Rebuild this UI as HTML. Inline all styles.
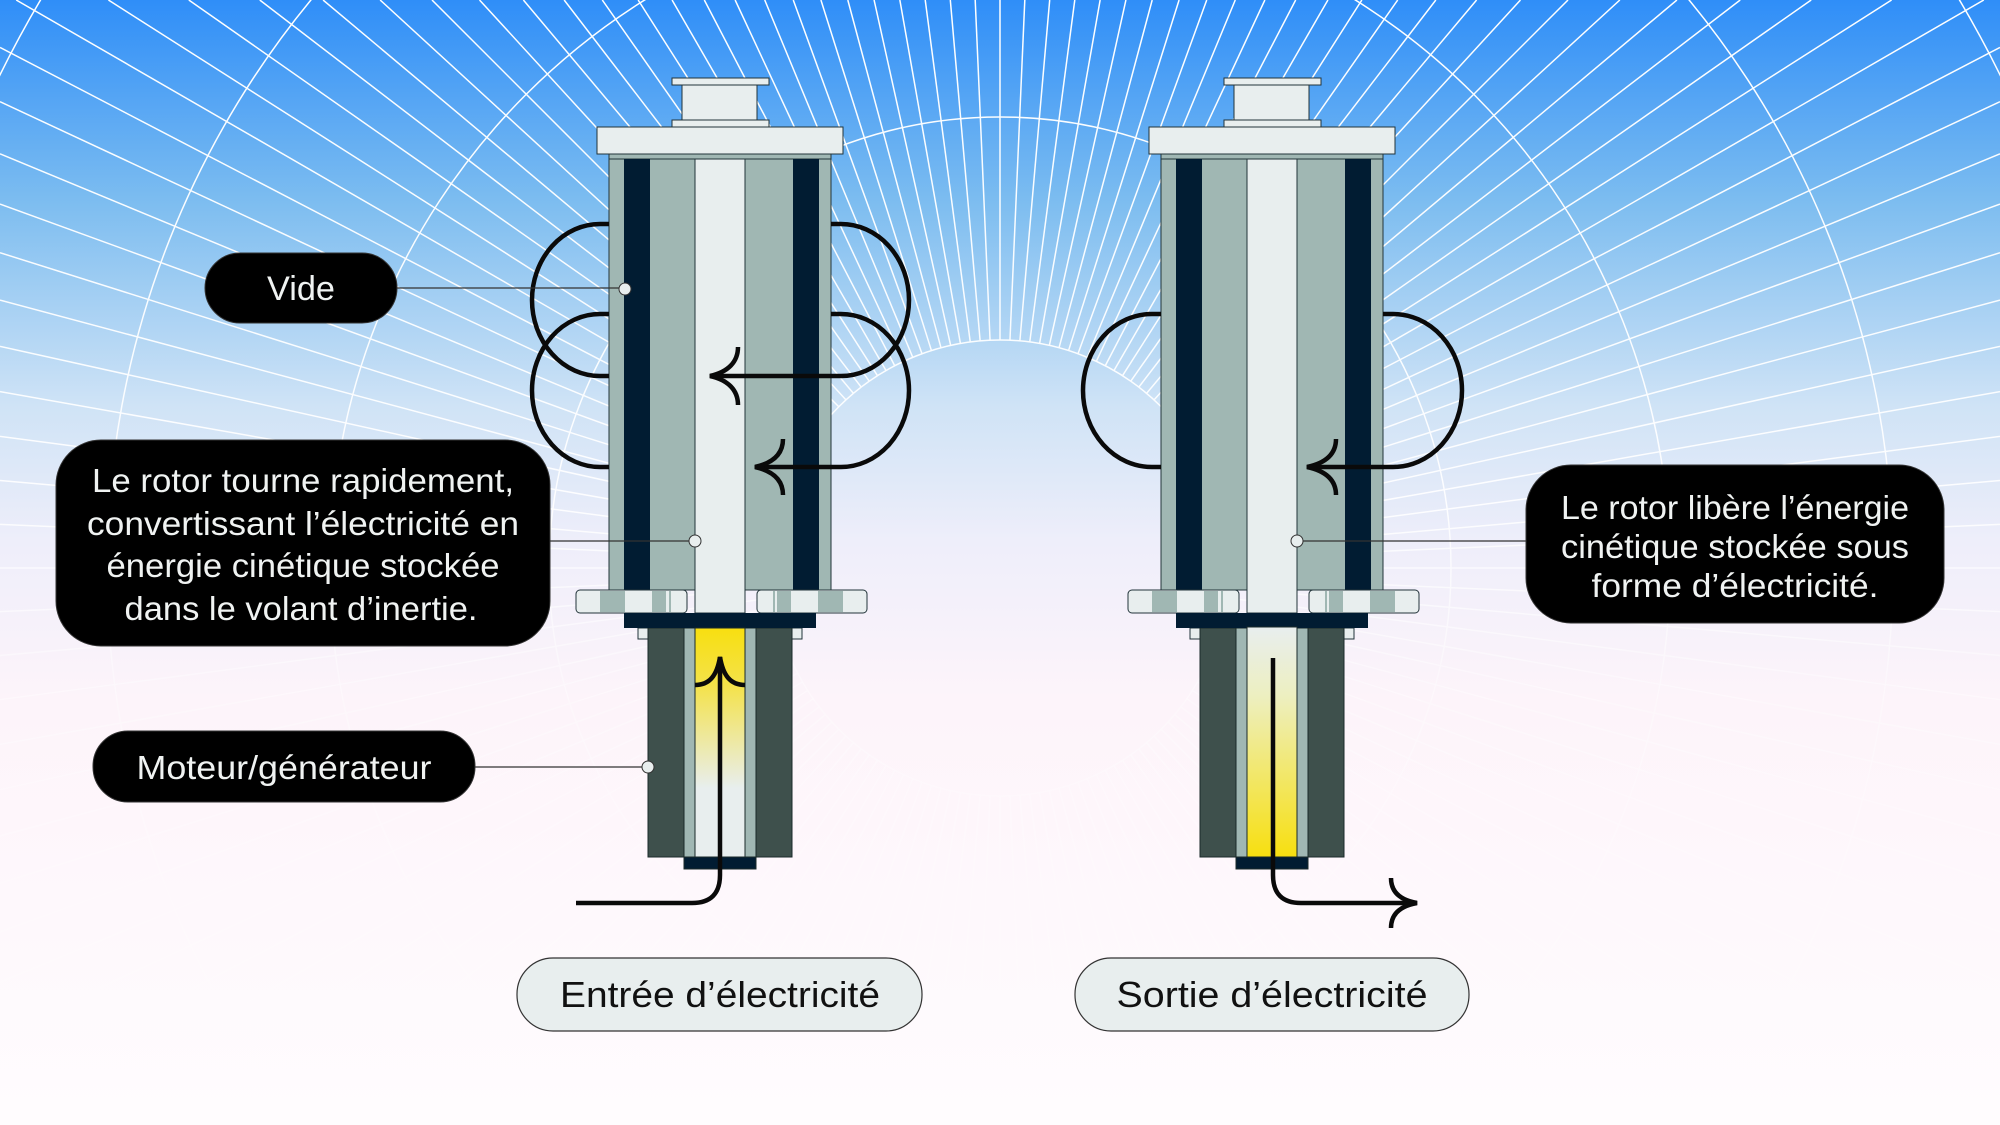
<!DOCTYPE html>
<html><head><meta charset="utf-8"><style>
html,body{margin:0;padding:0;width:2000px;height:1125px;overflow:hidden;font-size:0;line-height:0}
svg{display:block;position:absolute;left:0;top:0;overflow:hidden}
text{font-family:"Liberation Sans",sans-serif}
</style></head><body>
<svg xmlns="http://www.w3.org/2000/svg" xmlns:xlink="http://www.w3.org/1999/xlink" width="2000" height="1125" viewBox="0 0 2000 1125">
<defs>
<clipPath id="frame"><rect width="2000" height="1125"/></clipPath>
<linearGradient id="bg" x1="0" y1="0" x2="0" y2="1">
<stop offset="0" stop-color="#2f8ef8"/>
<stop offset="0.18" stop-color="#7dbdf0"/>
<stop offset="0.36" stop-color="#cfe3f6"/>
<stop offset="0.48" stop-color="#eeeefa"/>
<stop offset="0.62" stop-color="#fdf4fa"/>
<stop offset="1" stop-color="#fffcfe"/>
</linearGradient>
<linearGradient id="fade" x1="0" y1="0" x2="0" y2="1">
<stop offset="0" stop-color="#fff" stop-opacity="1"/>
<stop offset="0.45" stop-color="#fff" stop-opacity="0.9"/>
<stop offset="0.6" stop-color="#fff" stop-opacity="0.35"/>
<stop offset="1" stop-color="#fff" stop-opacity="0.1"/>
</linearGradient>
<mask id="gm"><rect width="2000" height="1125" fill="url(#fade)"/></mask>
<linearGradient id="yl" x1="0" y1="0" x2="0" y2="1">
<stop offset="0" stop-color="#f7df10"/>
<stop offset="0.25" stop-color="#f4e24a"/>
<stop offset="0.7" stop-color="#e8eeee"/>
<stop offset="1" stop-color="#e8eeee"/>
</linearGradient>
<linearGradient id="yr" x1="0" y1="0" x2="0" y2="1">
<stop offset="0" stop-color="#e8eeee"/>
<stop offset="0.3" stop-color="#edefc0"/>
<stop offset="1" stop-color="#f7df10"/>
</linearGradient>
<g id="dev">
 <rect x="682" y="85" width="75" height="35" fill="#e8eeee" stroke="#22343a" stroke-width="1"/>
 <rect x="672" y="78" width="97" height="7" fill="#e8eeee" stroke="#22343a" stroke-width="1"/>
 <rect x="672" y="120" width="97" height="7" fill="#e8eeee" stroke="#22343a" stroke-width="1"/>
 <rect x="597" y="127" width="246" height="27" fill="#e8eeee" stroke="#22343a" stroke-width="1"/>
 <rect x="609" y="154" width="222" height="436" fill="#a0b7b3" stroke="#22343a" stroke-width="1"/>
 <rect x="609" y="154" width="222" height="5" fill="#a0b7b3" stroke="#22343a" stroke-width="1"/>
 <rect x="624" y="159" width="26" height="431" fill="#011c32"/>
 <rect x="793" y="159" width="26" height="431" fill="#011c32"/>
 <rect x="695" y="159" width="50" height="454" fill="#e8eeee" stroke="#22343a" stroke-width="1"/>
 <rect x="576" y="590" width="111" height="23" rx="4" fill="#e8eeee" stroke="#22343a" stroke-width="1"/>
 <rect x="600" y="591" width="25" height="21" fill="#a0b7b3"/>
 <rect x="652" y="591" width="14" height="21" fill="#a0b7b3"/>
 <rect x="669" y="591" width="2" height="21" fill="#a0b7b3"/>
 <rect x="757" y="590" width="110" height="23" rx="4" fill="#e8eeee" stroke="#22343a" stroke-width="1"/>
 <rect x="773" y="591" width="2" height="21" fill="#a0b7b3"/>
 <rect x="777" y="591" width="14" height="21" fill="#a0b7b3"/>
 <rect x="818" y="591" width="25" height="21" fill="#a0b7b3"/>
 <rect x="638" y="628" width="10" height="11" fill="#e8eeee" stroke="#22343a" stroke-width="1"/>
 <rect x="663" y="628" width="10" height="11" fill="#e8eeee" stroke="#22343a" stroke-width="1"/>
 <rect x="767" y="628" width="10" height="11" fill="#e8eeee" stroke="#22343a" stroke-width="1"/>
 <rect x="792" y="628" width="10" height="11" fill="#e8eeee" stroke="#22343a" stroke-width="1"/>
 <rect x="648" y="628" width="144" height="229" fill="#3e504c" stroke="#1a2a2a" stroke-width="1"/>
 <rect x="684" y="628" width="72" height="229" fill="#a0b7b3" stroke="#1a2a2a" stroke-width="1"/>
 <rect x="684" y="857" width="72" height="12" fill="#011c32" stroke="#1a2a2a" stroke-width="1"/>
 <rect x="624" y="613" width="192" height="15" fill="#011c32"/>
</g>
</defs>
<g clip-path="url(#frame)">
<rect width="2000" height="1125" fill="url(#bg)"/>
<g mask="url(#gm)"><g id="grid" stroke="#ffffff" stroke-width="1.5" fill="none"></g></g>
<script>
(function(){
 var g=document.getElementById('grid'),ns='http://www.w3.org/2000/svg',cx=1000,cy=568;
 function clipLen(c,s){ // distance to frame edge
  var t=1e9;
  if(c>0)t=Math.min(t,(2000-cx)/c); if(c<0)t=Math.min(t,-cx/c);
  if(s>0)t=Math.min(t,(1125-cy)/s); if(s<0)t=Math.min(t,-cy/s);
  return t;
 }
 for(var a=-180;a<180;a+=2.5){
  var r=a*Math.PI/180,c=Math.cos(r),s=Math.sin(r),L=clipLen(c,s),l=document.createElementNS(ns,'line');
  if(L<=228)continue;
  l.setAttribute('x1',cx+228*c);l.setAttribute('y1',cy+228*s);
  l.setAttribute('x2',cx+L*c);l.setAttribute('y2',cy+L*s);
  g.appendChild(l);
 }
 [228,451,670,893,1115,1340,1560].forEach(function(R){
  var c=document.createElementNS(ns,'circle');c.setAttribute('cx',cx);c.setAttribute('cy',cy);c.setAttribute('r',R);g.appendChild(c);
 });
})();
</script>

<use xlink:href="#dev" href="#dev"/>
<rect x="695" y="628" width="50" height="229" fill="url(#yl)" stroke="#1a2a2a" stroke-width="1"/>
<use xlink:href="#dev" href="#dev" transform="translate(552,0)"/>
<rect x="1247" y="627" width="50" height="230" fill="url(#yr)" stroke="#1a2a2a" stroke-width="1"/>

<g fill="none" stroke="#0a0a0a" stroke-width="4.5">
 <path d="M609,224 H600 A68,76 0 0 0 600,376 H609"/>
 <path d="M609,314 H600 A68,76.5 0 0 0 600,467 H609"/>
 <path d="M831,224 H841 A68,76 0 0 1 841,376 H710"/>
 <path d="M738,347 C738,362 728,372 710,376 C728,380 738,390 738,405"/>
 <path d="M831,314 H841 A68,76.5 0 0 1 841,467 H755"/>
 <path d="M783,439 C783,454 773,463 755,467 C773,471 783,480 783,495"/>
 <path d="M720,657 V875 Q720,903 692,903 H576"/>
 <path d="M695,685 C710,685 717,675 720,657 C723,675 730,685 745,685"/>
 <path d="M1161,314 H1152 A69,76.5 0 0 0 1152,467 H1161"/>
 <path d="M1383,314 H1393 A69,76.5 0 0 1 1393,467 H1307"/>
 <path d="M1336,439 C1336,454 1326,463 1307,467 C1326,471 1336,480 1336,495"/>
 <path d="M1273,658 V875 Q1273,903 1301,903 H1417"/>
 <path d="M1391,878 C1391,892 1400,900 1417,903 C1400,906 1391,914 1391,928"/>
</g>

<g stroke="#333" stroke-width="1.2">
 <line x1="397" y1="288" x2="625" y2="288"/>
 <line x1="550" y1="541" x2="695" y2="541"/>
 <line x1="475" y1="767" x2="648" y2="767"/>
 <line x1="1297" y1="541" x2="1527" y2="541"/>
</g>
<g fill="#e8eeee" stroke="#333" stroke-width="1">
 <circle cx="625" cy="289" r="6"/>
 <circle cx="695" cy="541" r="6"/>
 <circle cx="648" cy="767" r="6"/>
 <circle cx="1297" cy="541" r="6"/>
</g>

<g fill="#000" stroke="#333" stroke-width="1">
 <rect x="205" y="253" width="192" height="70" rx="35"/>
 <rect x="56" y="440" width="494" height="206" rx="45"/>
 <rect x="93" y="731" width="382" height="71" rx="35"/>
 <rect x="1526" y="465" width="418" height="158" rx="45"/>
</g>
<g fill="#f0f3f2" font-size="33" text-anchor="middle" lengthAdjust="spacingAndGlyphs">
 <text x="301" y="300" font-size="34" textLength="68" lengthAdjust="spacingAndGlyphs">Vide</text>
 <text x="303" y="492" textLength="422" lengthAdjust="spacingAndGlyphs">Le rotor tourne rapidement,</text>
 <text x="303" y="535" textLength="432" lengthAdjust="spacingAndGlyphs">convertissant l’électricité en</text>
 <text x="303" y="577" textLength="393" lengthAdjust="spacingAndGlyphs">énergie cinétique stockée</text>
 <text x="301" y="620" textLength="353" lengthAdjust="spacingAndGlyphs">dans le volant d’inertie.</text>
 <text x="284" y="779" textLength="295" lengthAdjust="spacingAndGlyphs">Moteur/générateur</text>
 <text x="1735" y="519" textLength="348" lengthAdjust="spacingAndGlyphs">Le rotor libère l’énergie</text>
 <text x="1735" y="558" textLength="348" lengthAdjust="spacingAndGlyphs">cinétique stockée sous</text>
 <text x="1735" y="597" textLength="287" lengthAdjust="spacingAndGlyphs">forme d’électricité.</text>
</g>
<g fill="#e8eeee" stroke="#333" stroke-width="1.2">
 <rect x="517" y="958" width="405" height="73" rx="36"/>
 <rect x="1075" y="958" width="394" height="73" rx="36"/>
</g>
<g fill="#111" font-size="36" text-anchor="middle">
 <text x="720" y="1007" textLength="320" lengthAdjust="spacingAndGlyphs">Entrée d’électricité</text>
 <text x="1272" y="1007" textLength="311" lengthAdjust="spacingAndGlyphs">Sortie d’électricité</text>
</g>
</g>
</svg>
</body></html>
